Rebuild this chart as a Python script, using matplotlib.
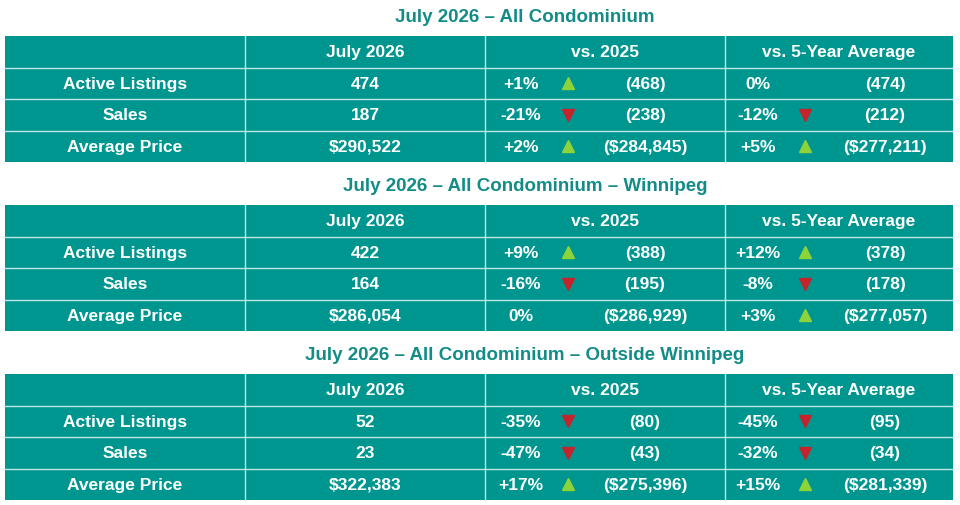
import matplotlib
matplotlib.use("Agg")
import matplotlib.pyplot as plt
from matplotlib.patches import Rectangle

titles = ["July 2026 – All Condominium",
          "July 2026 – All Condominium – Winnipeg",
          "July 2026 – All Condominium – Outside Winnipeg"]
headers = ["", "July 2026", "vs. 2025", "vs. 5-Year Average"]
row_labels = ["Active Listings", "Sales", "Average Price"]
current = [["474", "187", "$290,522"], ["422", "164", "$286,054"], ["52", "23", "$322,383"]]
vs_pct = [["+1%", "-21%", "+2%"], ["+9%", "-16%", "0%"], ["-35%", "-47%", "+17%"]]
vs_val = [["(468)", "(238)", "($284,845)"], ["(388)", "(195)", "($286,929)"], ["(80)", "(43)", "($275,396)"]]
avg_pct = [["0%", "-12%", "+5%"], ["+12%", "-8%", "+3%"], ["-45%", "-32%", "+15%"]]
avg_val = [["(474)", "(212)", "($277,211)"], ["(378)", "(178)", "($277,057)"], ["(95)", "(34)", "($281,339)"]]

TEAL = "#009690"
TITLE = "#138C87"
UP = "#8DD33A"
DOWN = "#C4242B"
FONT = "Liberation Sans"

fig = plt.figure(figsize=(9.6, 5.06), dpi=100)
ax = fig.add_axes([0, 0, 1, 1])
ax.set_xlim(0, 960)
ax.set_ylim(506, 0)
ax.axis("off")

cols = [5, 245, 485, 725, 953]
tops = [37, 206, 375]
title_y = [17, 186, 355]
rh = 31.5

def arrow(x, y, pct):
    if pct.startswith("+"):
        ax.plot(x, y, marker="^", color=UP, markersize=9, linestyle="none")
    elif pct.startswith("-"):
        ax.plot(x, y, marker="v", color=DOWN, markersize=9, linestyle="none")

for t in range(3):
    ax.text(525, title_y[t], titles[t], ha="center", va="center", fontsize=13.5,
            fontweight="bold", color=TITLE, family=FONT)
    top = tops[t]
    ax.add_patch(Rectangle((cols[0], top), cols[-1] - cols[0], 4 * rh, facecolor=TEAL, edgecolor="none"))
    for i in range(1, 4):
        ax.plot([0, 0], [0, 0])
    for c in cols[1:-1]:
        ax.plot([c, c], [top, top + 4 * rh], color="#BFE6E3", lw=1)
    for r in range(1, 4):
        ax.plot([cols[0], cols[-1]], [top + r * rh, top + r * rh], color="#BFE6E3", lw=1)
    kw = dict(ha="center", va="center", fontsize=12.5, fontweight="bold", color="white", family=FONT)
    for j, h in enumerate(headers):
        if h:
            ax.text((cols[j] + cols[j + 1]) / 2, top + rh / 2, h, **kw)
    for r in range(3):
        y = top + (r + 1.5) * rh
        ax.text(125, y, row_labels[r], **kw)
        ax.text(365, y, current[t][r], **kw)
        ax.text(521, y, vs_pct[t][r], **kw)
        arrow(568, y, vs_pct[t][r])
        ax.text(645, y, vs_val[t][r], **kw)
        ax.text(758, y, avg_pct[t][r], **kw)
        arrow(805, y, avg_pct[t][r])
        ax.text(885, y, avg_val[t][r], **kw)

fig.savefig("out.png", dpi=100)
